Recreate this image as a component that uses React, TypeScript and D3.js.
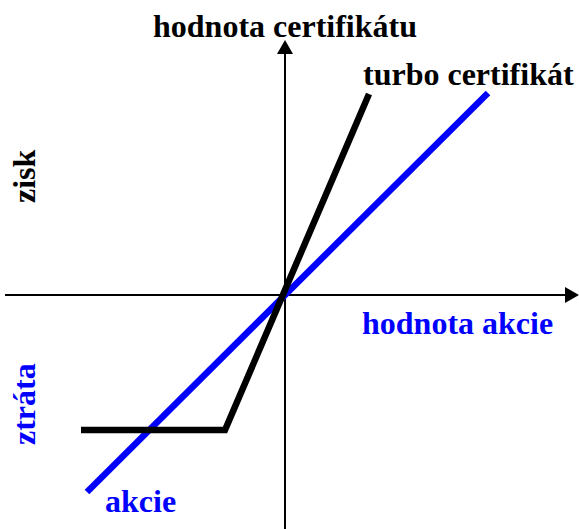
import React from "react";
import * as d3 from "d3";

type Pt = { x: number; y: number };

// hodnota akcie (share value) line
const akcie: Pt[] = [
  { x: -1.98, y: -1.97 },
  { x: 2.03, y: 2.02 },
];

// turbo certificate payoff
const turbo: Pt[] = [
  { x: -2.04, y: -1.35 },
  { x: -0.6, y: -1.35 },
  { x: 0.84, y: 2.01 },
];

const xDomain: [number, number] = [-2.8, 2.94];
const yDomain: [number, number] = [-2.34, 2.55];

const labels = {
  yAxis: "hodnota certifikátu",
  xAxis: "hodnota akcie",
  turbo: "turbo certifikát",
  akcie: "akcie",
  zisk: "zisk",
  ztrata: "ztráta",
};

const W = 579;
const H = 529;

export default function App() {
  const x = d3.scaleLinear().domain(xDomain).range([5, 579]);
  const y = d3.scaleLinear().domain(yDomain).range([529, 40]);
  const line = d3
    .line<Pt>()
    .x((d) => x(d.x))
    .y((d) => y(d.y));

  const x0 = x(0);
  const y0 = y(0);
  const xMax = x(xDomain[1]);
  const xMin = x(xDomain[0]);
  const yTop = y(yDomain[1]);
  const yBot = y(yDomain[0]);
  const ah = 14;
  const aw = 8;
  const font = "'Liberation Serif', 'Times New Roman', Times, serif";
  const fs = 32;

  return (
    <svg
      width={W}
      height={H}
      style={{
        position: "absolute",
        left: 0,
        top: 0,
        background: "#fff",
        fontFamily: font,
        fontWeight: "bold",
        fontSize: fs,
      }}
    >
      <rect x={0} y={0} width={W} height={H} fill="#fff" />
      {/* axes */}
      <line x1={xMin} y1={y0} x2={xMax - ah} y2={y0} stroke="#000" strokeWidth={2} />
      <path
        d={`M${xMax},${y0} L${xMax - ah},${y0 - aw} L${xMax - ah},${y0 + aw} Z`}
        fill="#000"
      />
      <line x1={x0} y1={yBot} x2={x0} y2={yTop + ah} stroke="#000" strokeWidth={2} />
      <path
        d={`M${x0},${yTop} L${x0 - aw},${yTop + ah} L${x0 + aw},${yTop + ah} Z`}
        fill="#000"
      />
      {/* series */}
      <path d={line(akcie) || ""} fill="none" stroke="#0000ff" strokeWidth={6.5} />
      <path
        d={line(turbo) || ""}
        fill="none"
        stroke="#000"
        strokeWidth={6.5}
        strokeLinejoin="miter"
      />
      {/* labels */}
      <text x={153} y={37} fill="#000">
        {labels.yAxis}
      </text>
      <text x={363} y={85} fill="#000">
        {labels.turbo}
      </text>
      <text x={362} y={334} fill="#0000ff">
        {labels.xAxis}
      </text>
      <text x={105} y={512} fill="#0000ff">
        {labels.akcie}
      </text>
      <text transform="translate(35,203) rotate(-90)" fill="#000">
        {labels.zisk}
      </text>
      <text transform="translate(35,445) rotate(-90)" fill="#0000ff">
        {labels.ztrata}
      </text>
    </svg>
  );
}
